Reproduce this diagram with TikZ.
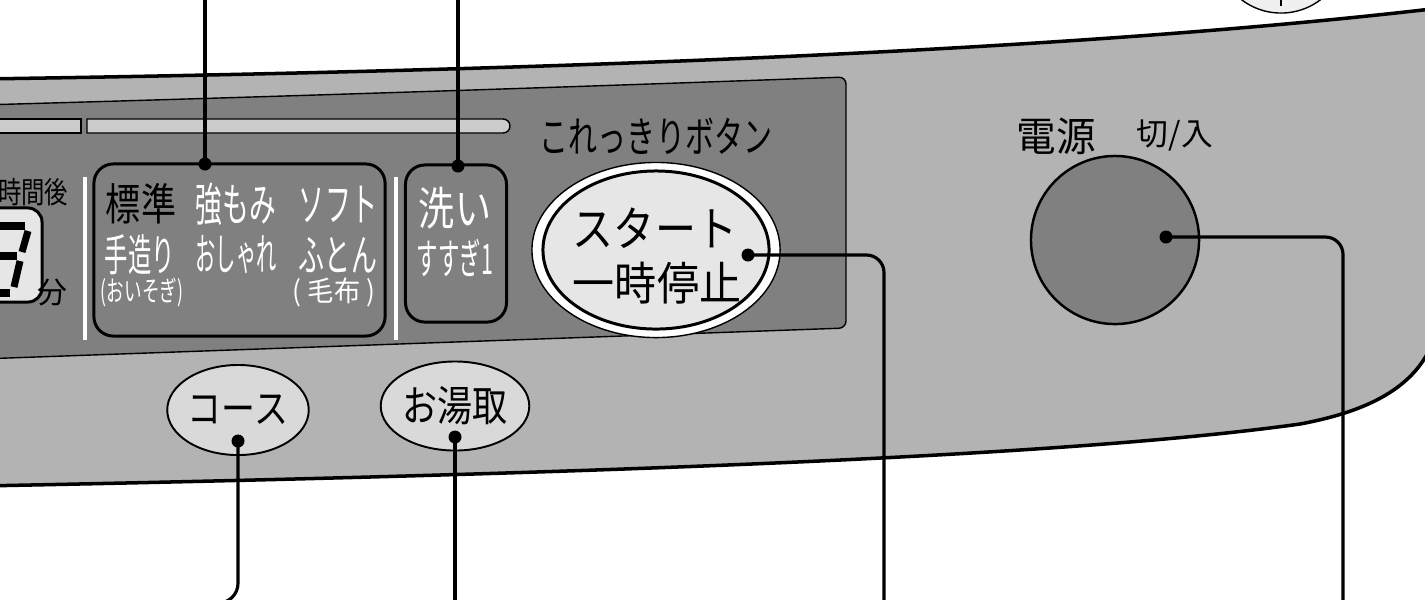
\documentclass[tikz,border=0pt]{standalone}
\usepackage{fontspec}
\usepackage{graphicx}
\usepackage{tikz}
\usetikzlibrary{shapes.geometric}
\newfontfamily\jp{Noto Sans CJK JP}
\newcommand{\fitw}[2]{\resizebox{#1}{\height}{#2}}
\definecolor{panelgray}{HTML}{B3B3B3}
\definecolor{insetgray}{HTML}{808080}
\definecolor{slotgray}{HTML}{CCCCCC}
\definecolor{lcdgray}{HTML}{E6E6E6}
\definecolor{keygray}{HTML}{D9D9D9}
\tikzset{
  panel/.style={fill=panelgray, draw=black, line width=1pt},
  inset/.style={fill=insetgray, draw=black, line width=0.4pt, rounded corners=2pt},
  slot/.style={fill=slotgray, draw=black, line width=0.4pt},
  keybox/.style={draw=black, line width=0.85pt, fill=insetgray, rounded corners=5.5pt, inner sep=0pt},
  pill/.style={ellipse, draw=black, line width=0.55pt, fill=keygray, inner sep=0pt},
  pin/.style={circle, fill=black, inner sep=0pt, minimum size=0.13cm},
  lead/.style={draw=black, line width=0.9pt, rounded corners=5pt},
  sep/.style={draw=white, line width=1.1pt},
  seg/.style={draw=black, line width=2pt},
  jp/.style={inner sep=0pt, font={\jp\fontsize{#1pt}{#1pt}\selectfont}},
}

\begin{document}
\begin{tikzpicture}[x=0.01cm, y=-0.01cm]
  \useasboundingbox (0,0) rectangle (1425,599);
  \fill[white] (0,0) rectangle (1425,599);
  \clip (0,0) rectangle (1425,599);

  \node[circle, draw=black, line width=0.4pt, fill=white!94!black, minimum size=1.3cm, inner sep=0pt] (dial) at (1281,-52) {};
  \draw[line width=0.4pt] (dial.south) ++(0,-8) -- ++(0,-8);

  \path[panel] (-20,79) .. controls (600,70) and (1100,48) .. (1440,8) -- (1440,300)
    .. controls (1440,380) and (1375,410) .. (1300,424)
    .. controls (1100,452) and (700,472) .. (-20,486) -- cycle;
  \path[inset] (-20,105) .. controls (300,96) and (600,86) .. (846,77) -- (846,328) -- (-20,359) -- cycle;

  \path[slot] (-5,119) rectangle (81,133);
  \path[slot] (87,119) -- (503,119) arc[start angle=-90, end angle=90, radius=7] -- (87,133) -- cycle;

  % display
  \node[draw=black, line width=0.85pt, fill=lcdgray, rounded corners=4pt, minimum width=0.9cm, minimum height=0.94cm, inner sep=0pt] (lcd) at (-3,255) {};
  \draw[seg] (-1,226) -- (25,226);
  \draw[seg] (28,231) -- (22,252);
  \draw[seg] (-6,256) -- (17,256);
  \draw[seg] (20,261) -- (14,287);
  \draw[seg] (-14,293) -- (10,293);
  \draw[seg] (-11,262) -- (-17,288);
  \node[jp=8.5, anchor=east] (hours) at (69,192) {\fitw{0.70cm}{時間後}};
  \node[jp=8.5] (minute) at (52,292) {分};

  \draw[sep] (85,177) -- (85,340);
  \draw[sep] (396,177) -- (396,340);

  % course keys
  \node[keybox, minimum width=2.91cm, minimum height=1.72cm] (course) at (239.5,250) {};
  \node[jp=12.5] (std) at (141,204) {\fitw{0.70cm}{標準}};
  \node[jp=13, text=white] (strong) at (236,204) {\fitw{0.80cm}{強もみ}};
  \node[jp=13, text=white] (soft) at (338,204) {\fitw{0.78cm}{ソフト}};
  \node[jp=12.5, text=white] (hand) at (140,255) {\fitw{0.70cm}{手造り}};
  \node[jp=12.5, text=white] (fashion) at (236,255) {\fitw{0.81cm}{おしゃれ}};
  \node[jp=12.5, text=white] (futon) at (338,255) {\fitw{0.78cm}{ふとん}};
  \node[jp=8, text=white] (hurry) at (142,292) {\fitw{0.82cm}{(おいそぎ)}};
  \node[jp=8, text=white] (blanket) at (334,292) {\fitw{0.82cm}{( 毛布 )}};

  \node[keybox, minimum width=1.01cm, minimum height=1.57cm] (wash) at (456,243.5) {};
  \node[jp=13, text=white] (washlbl) at (455,208) {\fitw{0.72cm}{洗い}};
  \node[jp=12, text=white] (rinselbl) at (455,258) {\fitw{0.76cm}{すすぎ1}};

  \node[jp=12] (korekkiri) at (656,136) {\fitw{2.32cm}{これっきりボタン}};
  \node[ellipse, draw=black, line width=0.4pt, fill=white, minimum width=2.48cm, minimum height=1.75cm, inner sep=0pt] (startring) at (656,250) {};
  \node[ellipse, draw=black, line width=0.85pt, fill=lcdgray, minimum width=2.26cm, minimum height=1.58cm, inner sep=0pt] (start) at (656,250) {};
  \node[jp=13.5] (startlbl) at (655,228) {\fitw{1.64cm}{スタート}};
  \node[jp=13] (pauselbl) at (657,283) {\fitw{1.68cm}{一時停止}};

  \node[pill, minimum width=1.24cm, minimum height=0.9cm, font={\jp\fontsize{11.5pt}{11.5pt}\selectfont}] (coursekey) at (238,410) {\fitw{1.0cm}{コース}};
  \node[pill, minimum width=1.25cm, minimum height=0.89cm, font={\jp\fontsize{12pt}{12pt}\selectfont}] (yukey) at (455,406) {\fitw{1.05cm}{お湯取}};

  % power
  \node[jp=11.5] (powerlbl) at (1056,136) {\fitw{0.79cm}{電源}};
  \node[jp=9] (onoff) at (1175,135) {\fitw{0.76cm}{切/入}};
  \node[circle, draw=black, line width=0.7pt, fill=insetgray, minimum size=1.68cm, inner sep=0pt] (power) at (1115,240) {};

  \node[pin] (coursepin) at (205,164) {};
  \node[pin] (washpin) at (458,166) {};
  \node[pin] (startpin) at (748,255) {};
  \node[pin] (powerpin) at (1166,237) {};
  \node[pin] (coursekeypin) at (238,441) {};
  \node[pin] (yukeypin) at (455,437) {};
  \coordinate (coursetop) at (205,-5);
  \coordinate (washtop) at (458,-5);
  \coordinate (startfoot) at (884,605);
  \coordinate (powerfoot) at (1343,605);
  \coordinate (coursekeyfoot) at (150,603);
  \coordinate (yukeyfoot) at (455,605);
  \draw[lead] (coursepin.center) -- (coursetop);
  \draw[lead] (washpin.center) -- (washtop);
  \draw[lead] (startpin.center) -| (startfoot);
  \draw[lead] (powerpin.center) -| (powerfoot);
  \draw[lead, rounded corners=5.6pt] (coursekeypin.center) |- (coursekeyfoot);
  \draw[lead] (yukeypin.center) -- (yukeyfoot);
\end{tikzpicture}
\end{document}
